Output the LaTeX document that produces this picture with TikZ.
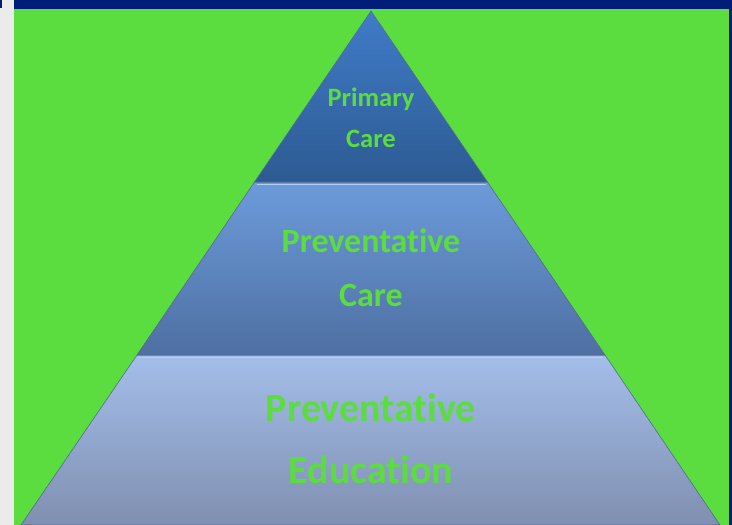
\documentclass[tikz,border=0pt]{standalone}
\usepackage{fontspec}
\setmainfont{Carlito}[Ligatures = NoCommon]
\usetikzlibrary{positioning}

\definecolor{slidegreen}{RGB}{91,221,63}
\definecolor{slidenavy}{RGB}{0,30,120}
\definecolor{sidegray}{RGB}{235,235,235}
\definecolor{topupper}{RGB}{64,124,200}
\definecolor{toplower}{RGB}{45,90,146}
\definecolor{midupper}{RGB}{108,155,218}
\definecolor{midlower}{RGB}{78,111,162}
\definecolor{lowupper}{RGB}{164,190,234}
\definecolor{lowlower}{RGB}{127,143,176}
\definecolor{rimlight}{RGB}{176,208,246}
\definecolor{rimdark}{RGB}{40,70,120}

\tikzset{
  tier/.style = {draw = rimdark!80, line width = 0.6pt},
  tierlabel/.style = {text = slidegreen, align = center, font = \bfseries}
}

\begin{document}
\begin{tikzpicture}[x = 1pt, y = -1pt]
	\useasboundingbox (0, 0) rectangle (732, 525);
	\fill [sidegray] (0, 0) rectangle (14, 525);
	\fill [slidenavy] (0, 0) rectangle (2, 8);
	\fill [slidenavy] (14, 0) rectangle (732, 9);
	\fill [slidenavy] (728.5, 9) rectangle (732, 525);
	\fill [slidegreen] (14, 9) rectangle (728.5, 525);
	\coordinate (apex) at (371, 11);
	\coordinate (upperleft) at (254.5, 182);
	\coordinate (upperright) at (487.5, 182);
	\coordinate (lowerleft) at (137, 355);
	\coordinate (lowerright) at (605, 355);
	\coordinate (baseleft) at (21, 525);
	\coordinate (baseright) at (720, 525);
	\shade [tier, top color = lowupper, bottom color = lowlower] (lowerleft) -- (lowerright) -- (baseright) -- (baseleft) -- cycle;
	\shade [tier, top color = midupper, bottom color = midlower] (upperleft) -- (upperright) -- (lowerright) -- (lowerleft) -- cycle;
	\shade [tier, top color = topupper, bottom color = toplower] (apex) -- (upperright) -- (upperleft) -- cycle;
	\draw [rimlight, line width = 1.5pt] ([shift = {(2, 2.5)}] upperleft) -- ([shift = {(-2, 2.5)}] upperright);
	\draw [rimlight, line width = 1.5pt] ([shift = {(2, 2.5)}] lowerleft) -- ([shift = {(-2, 2.5)}] lowerright);
	\node (primary) at (371, 117.5) [tierlabel, font = \fontsize{26.5}{41}\selectfont\bfseries] {Primary\\Care};
	\node (preventcare) at (371, 268) [tierlabel, font = \fontsize{34}{54}\selectfont\bfseries] {Preventative\\Care};
	\node (preventedu) at (371, 439) [tierlabel, font = \fontsize{40}{62}\selectfont\bfseries] {Preventative\\Education};
\end{tikzpicture}
\end{document}
